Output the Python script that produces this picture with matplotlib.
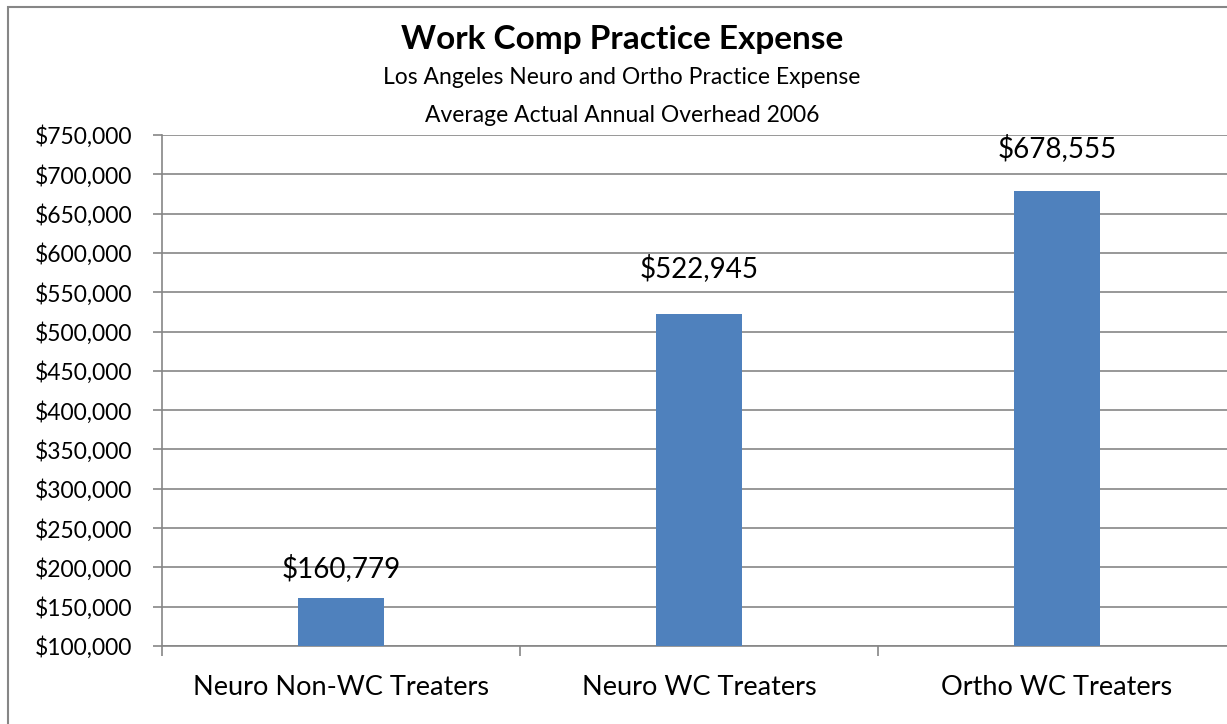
import matplotlib.pyplot as plt
from matplotlib.patches import Rectangle
from matplotlib.ticker import FuncFormatter, MultipleLocator

# data
categories = ["Neuro Non-WC Treaters", "Neuro WC Treaters", "Ortho WC Treaters"]
overhead = [160779, 522945, 678555]
labels = ["$160,779", "$522,945", "$678,555"]

plt.rcParams['font.family'] = ['Lato', 'DejaVu Sans']

W, H = 1227, 724
fig = plt.figure(figsize=(W / 100, H / 100), dpi=100)

# chart frame (runs off the right and bottom edge in the original)
fig.patches.append(Rectangle((8 / W, -0.05), 1.1, 1 - 7 / H + 0.05,
                             transform=fig.transFigure, fill=False,
                             edgecolor='#868686', linewidth=1.5))

ax = fig.add_axes([162 / W, 1 - 646 / H, (1236 - 162) / W, (646 - 135) / H])
x = range(len(categories))
ax.bar(x, overhead, width=0.24, color='#4f81bd', zorder=3)
# labels were nudged by hand in the original, so gaps differ a bit
label_gap = [20000, 40000, 37000]
for xi, v, lab, g in zip(x, overhead, labels, label_gap):
    ax.text(xi, v + g, lab, ha='center', va='bottom', fontsize=20)

ax.set_xlim(-0.5, 2.5)
ax.set_ylim(100000, 750000)
ax.yaxis.set_major_locator(MultipleLocator(50000))
ax.yaxis.set_major_formatter(FuncFormatter(lambda v, p: f"${v:,.0f}"))
ax.grid(axis='y', color='#868686', linewidth=1.2, zorder=0)
ax.set_xticks(list(x))
ax.set_xticklabels(categories, fontsize=19.5)
ax.set_xticks([-0.5, 0.5, 1.5], minor=True)
ax.tick_params(axis='x', which='major', length=0, pad=21)
ax.tick_params(axis='x', which='minor', length=7, color='#868686', width=1.2)
ax.tick_params(axis='y', labelsize=16.5, length=6.5, color='#868686', width=1.2, pad=15)
for s in ['top', 'right']:
    ax.spines[s].set_visible(False)
for s in ['left', 'bottom']:
    ax.spines[s].set_color('#868686')
    ax.spines[s].set_linewidth(1.2)

fig.text(622 / W, 1 - 40 / H, "Work Comp Practice Expense", ha='center', va='center',
         fontsize=24, fontweight='bold')
fig.text(622 / W, 1 - 78 / H, "Los Angeles Neuro and Ortho Practice Expense",
         ha='center', va='center', fontsize=16.5)
fig.text(622 / W, 1 - 115 / H, "Average Actual Annual Overhead 2006",
         ha='center', va='center', fontsize=16.5)

fig.savefig("out.png", dpi=100)
